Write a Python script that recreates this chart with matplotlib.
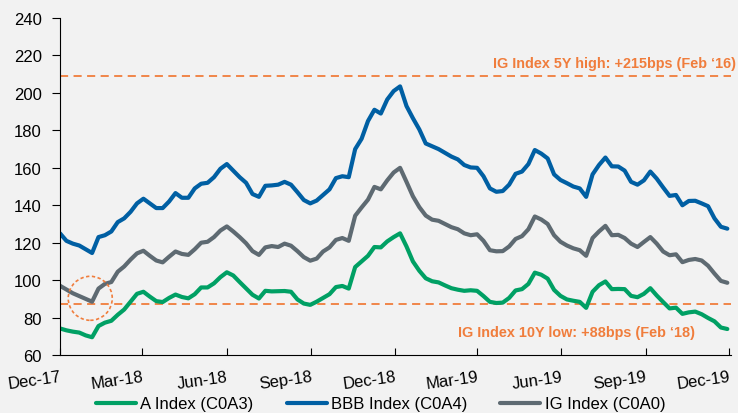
import pandas as pd
import matplotlib
matplotlib.use("Agg")
import matplotlib.pyplot as plt
import matplotlib.dates as mdates
from matplotlib.patches import Ellipse


# weekly spread readings (bps), first week of dec-17 to end of nov-19

start_date = "2017-12-01"

a_index = [
    74.2, 73.2, 72.5, 72.0, 70.5, 69.5, 75.5, 77.3, 78.3, 81.5,
    84.3, 88.5, 92.7, 93.8, 91.2, 88.8, 88.3, 90.5, 92.3, 91.0,
    90.3, 92.5, 96.1, 96.1, 98.3, 101.6, 104.2, 102.5, 99.0, 95.6,
    92.2, 90.2, 94.3, 94.0, 94.1, 94.2, 93.8, 89.7, 87.5, 86.8,
    88.5, 90.5, 92.5, 96.3, 96.9, 95.5, 107.0, 110.0, 113.0, 117.7,
    117.5, 120.7, 123.0, 125.0, 118.0, 110.0, 105.0, 101.0, 99.4, 98.8,
    97.2, 95.7, 94.9, 94.3, 94.6, 94.3, 91.5, 88.4, 87.8, 88.0,
    90.5, 94.5, 95.2, 98.0, 104.0, 102.9, 100.8, 94.8, 91.6, 89.7,
    89.0, 88.4, 85.2, 93.8, 97.3, 99.3, 95.2, 95.3, 95.2, 91.6,
    90.9, 92.7, 95.7, 91.8, 88.3, 84.9, 85.3, 82.0, 82.8, 83.2,
    81.8, 79.8, 78.0, 74.7, 73.9,
]

bbb_index = [
    125.0, 121.0, 119.5, 118.5, 116.5, 114.5, 123.0, 124.0, 126.0, 131.0,
    133.0, 136.5, 141.0, 143.5, 141.0, 138.5, 138.5, 142.0, 146.5, 144.0,
    144.0, 149.0, 151.5, 152.0, 155.0, 159.5, 162.0, 158.5, 155.0, 152.0,
    146.0, 144.5, 150.4, 150.6, 151.0, 152.5, 151.0, 147.0, 142.8, 141.0,
    142.5, 145.5, 148.5, 154.5, 155.5, 155.0, 170.0, 175.5, 185.0, 191.0,
    189.0, 196.5, 201.0, 203.5, 193.0, 186.5, 180.5, 173.0, 171.5, 170.0,
    168.0, 166.0, 164.5, 161.5, 160.2, 160.0, 155.5, 149.0, 147.2, 147.6,
    151.0, 156.8, 158.0, 162.0, 169.5, 167.6, 165.0, 156.5, 153.5, 151.8,
    150.0, 149.0, 144.5, 156.5, 161.5, 165.5, 160.8, 160.7, 158.5, 152.5,
    151.0, 153.3, 158.0, 154.2, 149.5, 145.0, 145.5, 140.0, 142.3, 142.4,
    141.0, 139.5, 133.0, 128.5, 127.5,
]

ig_index = [
    97.0, 95.0, 93.0, 91.5, 90.0, 88.5, 95.5, 98.0, 99.0, 104.5,
    107.3, 111.0, 114.3, 115.7, 113.0, 110.5, 109.5, 112.5, 115.3, 114.0,
    113.5, 116.5, 120.0, 120.5, 123.0, 126.5, 128.7, 126.0, 123.0, 119.7,
    115.5, 113.5, 117.5, 118.2, 117.7, 119.5, 118.4, 115.5, 112.3, 110.4,
    111.5, 115.3, 117.5, 121.5, 122.5, 121.0, 134.4, 138.8, 143.0, 149.8,
    148.5, 153.3, 157.5, 160.0, 152.5, 144.8, 139.0, 134.5, 132.3, 131.7,
    130.0, 128.3, 127.2, 125.0, 124.0, 124.5, 121.0, 116.0, 115.4, 115.5,
    118.0, 122.0, 123.5, 127.2, 134.0, 132.4, 130.0, 124.0, 120.5, 118.5,
    117.0, 116.0, 113.0, 122.5, 126.0, 129.0, 124.0, 124.2, 122.5, 119.5,
    117.7, 120.4, 123.0, 119.5, 115.3, 113.3, 113.8, 109.6, 110.8, 111.3,
    110.5, 107.7, 103.5, 99.6, 98.6,
]

series_names = ["A Index (C0A3)", "BBB Index (C0A4)", "IG Index (C0A0)"]
series_colors = ["#00A064", "#005FA3", "#5E6A72"]

ig_5y_high = 209
ig_10y_low = 87
high_label = "IG Index 5Y high: +215bps (Feb \u201816)"
low_label = "IG Index 10Y low: +88bps (Feb \u201818)"

tick_dates = pd.date_range("2017-12-01", "2019-12-01", freq="3MS")
y_ticks = list(range(60, 241, 20))

ORANGE = "#F07D3C"
BG = "#F2F2F2"


def plot_chart():
    plt.rcParams["font.family"] = ["Liberation Sans", "DejaVu Sans"]

    dates = pd.date_range(start_date, periods=len(ig_index), freq="7D")

    fig = plt.figure(figsize=(7.38, 4.14), dpi=100, facecolor=BG)
    ax = fig.add_axes([0.0813, 0.140, 0.9092, 0.814])
    ax.set_facecolor(BG)

    # the three index lines
    for vals, name, col in zip(
        [a_index, bbb_index, ig_index], series_names, series_colors
    ):
        ax.plot(dates, vals, color=col, lw=3, label=name,
                solid_joinstyle="round", solid_capstyle="round")

    # reference levels
    for level in (ig_5y_high, ig_10y_low):
        ax.axhline(level, color=ORANGE, lw=1.3, dashes=(4.5, 3), zorder=1)

    ax.text(1.007, 216, high_label, transform=ax.get_yaxis_transform(),
            ha="right", va="center", color=ORANGE, fontsize=10.4,
            fontweight="bold")
    ax.text(0.946, 72.3, low_label, transform=ax.get_yaxis_transform(),
            ha="right", va="center", color=ORANGE, fontsize=10.4,
            fontweight="bold")

    # circle round the feb-18 low
    centre = mdates.date2num(pd.Timestamp("2018-01-03"))
    ax.add_patch(Ellipse((centre, 90.3), width=48, height=23.5,
                         fill=False, edgecolor=ORANGE, lw=1.2,
                         linestyle=(0, (2, 1.5)), zorder=4))

    ax.set_ylim(60, 240)
    ax.set_yticks(y_ticks)
    ax.set_xlim(pd.Timestamp("2017-12-01"), pd.Timestamp("2019-12-03"))
    ax.set_xticks(tick_dates)
    ax.xaxis.set_major_formatter(mdates.DateFormatter("%b-%y"))

    ax.spines[["top", "right"]].set_visible(False)
    ax.spines[["left", "bottom"]].set_color("#000000")
    ax.tick_params(axis="y", direction="out", length=6, labelsize=12,
                   pad=7, color="#000000")
    ax.tick_params(axis="x", direction="in", length=5, labelsize=12,
                   pad=10, color="#000000")
    for lab in ax.get_xticklabels():
        lab.set_rotation(8)
        lab.set_ha("right")
        lab.set_rotation_mode("anchor")

    fig.legend(loc="center", bbox_to_anchor=(0.5156, 0.022), ncol=3,
               frameon=False, fontsize=12, handlelength=2.4,
               handletextpad=0.25, columnspacing=2.0)

    fig.savefig("out.png", dpi=100, facecolor=fig.get_facecolor())


def main():
    plot_chart()


if __name__ == "__main__":
    main()
